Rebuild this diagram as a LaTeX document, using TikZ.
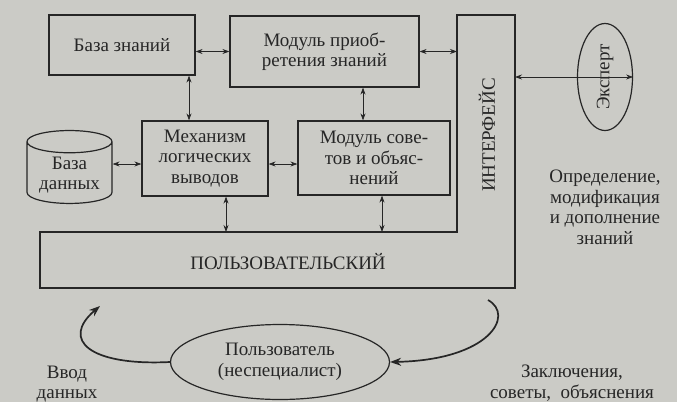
\documentclass[tikz,border=0pt]{standalone}
\usepackage{fontspec}
\setmainfont{Liberation Serif}
\usetikzlibrary{shapes.geometric,arrows.meta}
\definecolor{scan}{RGB}{203,203,198}
\definecolor{ink}{RGB}{38,38,38}
\begin{document}
\begin{tikzpicture}[x=1pt,y=-1pt,
  every node/.style={font=\fontsize{19}{20.5}\selectfont,align=center,text=ink},
  box/.style={draw=ink,line width=1.2pt},
  dbl/.style={{Stealth[length=7pt,width=5pt]}-{Stealth[length=7pt,width=5pt]},draw=ink,line width=0.7pt},
  flow/.style={-{Stealth[length=11pt,width=8pt]},draw=ink,line width=1.7pt}]
\fill [scan] (0,0) rectangle (677,402);
\useasboundingbox (0,0) rectangle (677,402);
\node [box,minimum width=146pt,minimum height=60pt] (kb) at (122,45) {База знаний};
\node [box,minimum width=189pt,minimum height=71pt] (acq) at (324.5,51.5) {Модуль приоб-\\ретения знаний};
\node [box,minimum width=126pt,minimum height=75pt] (mech) at (205,158.5) {Механизм\\логических\\выводов};
\node [box,minimum width=152pt,minimum height=74pt] (adv) at (374,158) {Модуль сове-\\тов и объяс-\\нений};
\node [box,cylinder,shape border rotate=90,aspect=0.33,minimum width=85pt,minimum height=72pt] (db) at (69.5,175) {База\\данных};
% interface
\draw [box] (40,232) -| (457,15) -| (515,288) -| cycle;
\coordinate (ifl) at (457,0);
\coordinate (ifr) at (515,0);
\coordinate (ubt) at (0,232);
\node [rotate=90] (intf) at (487,135) {ИНТЕРФЕЙС};
\node (usr) at (288,262) {ПОЛЬЗОВАТЕЛЬСКИЙ};
\node [box,ellipse,rotate=90,minimum width=107pt,minimum height=55pt,inner sep=0pt] (exp) at (605,77) {Эксперт};
\node [box,ellipse,minimum width=219pt,minimum height=75pt,inner sep=0pt] (user) at (280,362) {Пользователь\\(неспециалист)};
\node (def) at (605,207.5) {Определение,\\модификация\\и дополнение\\знаний};
\node (inp) at (67,384) {Ввод\\данных};
\node (res) at (572,383) {Заключения,\\советы,~ объяснения};
% connectors
\coordinate (mid) at ([yshift=-5.5pt]mech.west);
\draw [dbl] (kb.east |- acq.west) -- (acq.west);
\draw [dbl] (acq.east) -- (acq.east -| ifl);
\draw [dbl] ([xshift=67pt]kb.south) -- ([xshift=-16pt]mech.north);
\draw [dbl] ([xshift=38.5pt]acq.south) -- ([xshift=-11pt]adv.north);
\draw [dbl] (mid -| db.east) -- (mid);
\draw [dbl] (mid -| mech.east) -- (mid -| adv.west);
\draw [dbl] ([xshift=21pt]mech.south) -- ([xshift=21pt]mech.south |- ubt);
\draw [dbl] ([xshift=8pt]adv.south) -- ([xshift=8pt]adv.south |- ubt);
\draw [dbl] (exp.south -| ifr) -- (exp.south);
\coordinate (in) at (100,306);
\coordinate (out) at (488,300);
\draw [flow] (user.west) .. controls (90,366) and (60,340) .. (in);
\draw [flow] (out) .. controls (515,315) and (490,360) .. (user.east);
\end{tikzpicture}
\end{document}
